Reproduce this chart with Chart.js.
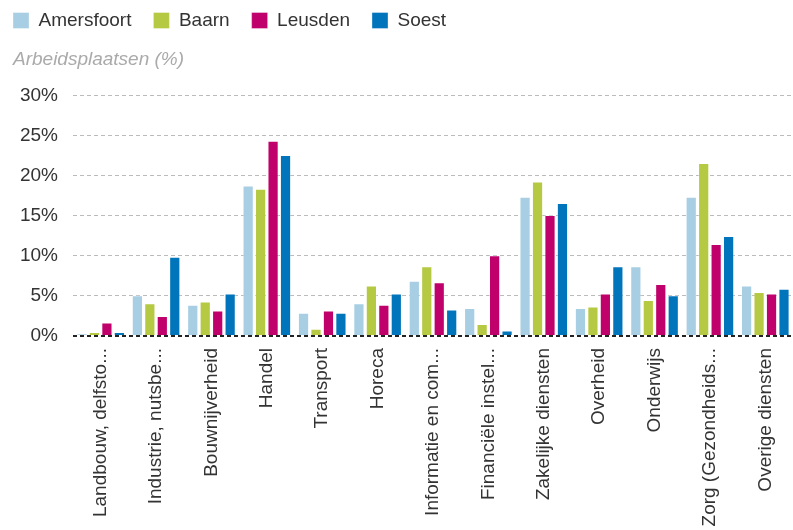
<!DOCTYPE html>
<html>
<head>
<meta charset="utf-8">
<script src="https://cdn.jsdelivr.net/npm/chart.js@4"></script>
<style>
  body { margin: 0; background: #fff; }
  #wrap { width: 793px; height: 530px; }
</style>
</head>
<body>
<div id="wrap"><canvas id="myChart"></canvas></div>
<script>
// sectors (labels shortened the way the original shows them)
const categories = [
  'Landbouw, delfsto...', 'Industrie, nutsbe...', 'Bouwnijverheid', 'Handel', 'Transport', 'Horeca',
  'Informatie en com...', 'Financiële instel...', 'Zakelijke diensten', 'Overheid', 'Onderwijs',
  'Zorg (Gezondheids...', 'Overige diensten',
];
const amersfoort = [0.3, 5.1, 3.9, 18.8, 2.9, 4.1, 6.9, 3.5, 17.4, 3.5, 8.7, 17.4, 6.3];
const baarn = [0.5, 4.1, 4.3, 18.4, 0.9, 6.3, 8.7, 1.5, 19.3, 3.7, 4.5, 21.6, 5.5];
const leusden = [1.7, 2.5, 3.2, 24.4, 3.2, 3.9, 6.7, 10.1, 15.1, 5.3, 6.5, 11.5, 5.3];
const soest = [0.5, 9.9, 5.3, 22.6, 2.9, 5.3, 3.3, 0.7, 16.6, 8.7, 5.1, 12.5, 5.9];
const yTicks = [0, 5, 10, 15, 20, 25, 30];

const font = "'Liberation Sans', Arial, sans-serif";
const legendPad = 22;

const ds = function (label, data, color) {
  return {
    label: label,
    data: data,
    backgroundColor: color,
    borderColor: 'rgba(255,255,255,0.35)',
    borderWidth: 1,
    barPercentage: 0.9,
    categoryPercentage: 0.9,
  };
};

// legend padding is also used before the first box, pull it back to the left edge
const legendShift = {
  id: 'legendShift',
  afterLayout(chart) {
    chart.legend.left = 13 - legendPad;
  },
};

const chart = new Chart(document.getElementById('myChart'), {
  type: 'bar',
  data: {
    labels: categories,
    datasets: [
      ds('Amersfoort', amersfoort, '#a7cee3'),
      ds('Baarn', baarn, '#b6c943'),
      ds('Leusden', leusden, '#c0006b'),
      ds('Soest', soest, '#0075bc'),
    ],
  },
  plugins: [legendShift],
  options: {
    responsive: true,
    maintainAspectRatio: false,
    animation: false,
    layout: { padding: { left: 13, right: 0, top: -11, bottom: 0 } },
    plugins: {
      legend: {
        position: 'top',
        align: 'start',
        weight: 3000,
        labels: {
          boxWidth: 16,
          boxHeight: 16,
          padding: legendPad,
          color: '#333',
          font: { family: font, size: 19 },
        },
      },
      title: {
        display: true,
        text: 'Arbeidsplaatsen (%)',
        align: 'start',
        color: '#aaa',
        font: { family: font, size: 19, style: 'italic', weight: 'normal' },
        padding: { top: 8, bottom: 25 },
      },
      tooltip: { enabled: false },
    },
    scales: {
      x: {
        offset: true,
        grid: { display: false },
        border: { display: false },
        afterFit: (axis) => {
          axis.height = 194;
        },
        ticks: {
          autoSkip: false,
          minRotation: 90,
          maxRotation: 90,
          padding: 4,
          color: '#333',
          font: { family: font, size: 19 },
        },
      },
      y: {
        min: 0,
        max: 30,
        afterBuildTicks: (axis) => {
          axis.ticks = yTicks.map((v) => ({ value: v }));
        },
        afterFit: (axis) => {
          axis.width = 60;
        },
        border: { display: false, dash: [4, 3] },
        grid: {
          drawTicks: false,
          color: (c) => (c.tick && c.tick.value === 0 ? '#222' : '#bbb'),
          lineWidth: (c) => (c.tick && c.tick.value === 0 ? 2 : 1),
        },
        ticks: {
          padding: 15,
          color: '#333',
          font: { family: font, size: 19 },
          callback: (v) => v + '%',
        },
      },
    },
  },
});
</script>
</body>
</html>
